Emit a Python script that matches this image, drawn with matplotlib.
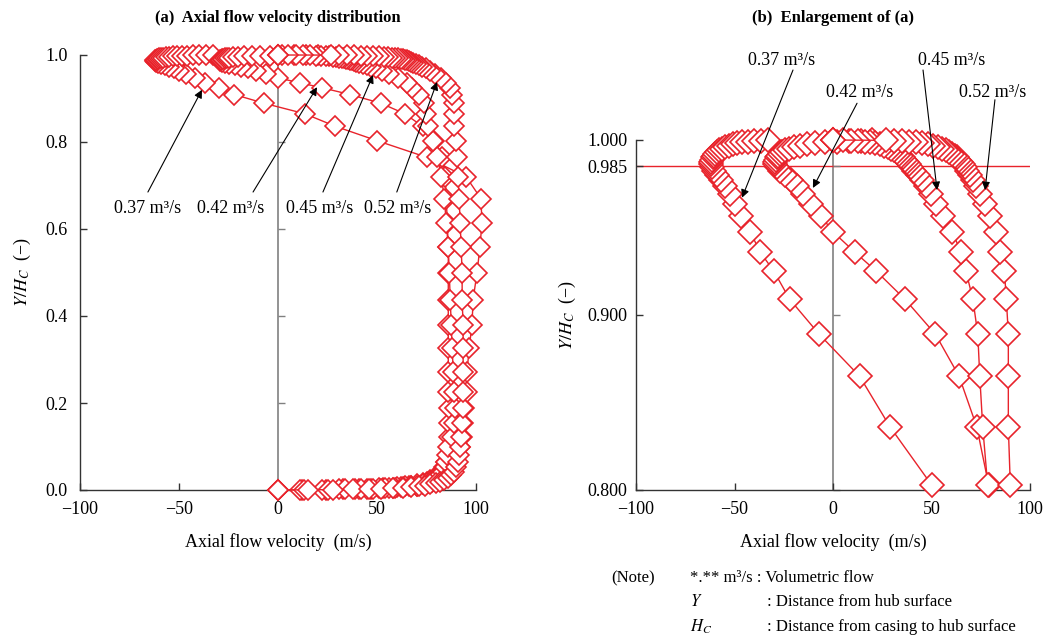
import numpy as np
import matplotlib.pyplot as plt

plt.rcParams['font.family'] = ['Liberation Serif', 'DejaVu Serif']
plt.rcParams['mathtext.fontset'] = 'stix'
plt.rcParams['font.size'] = 13

# Y/Hc polozaji (zajednicka mreza za sve protoke)
y_pos = [0.0, 0.0004, 0.0009, 0.0015, 0.0022, 0.003, 0.004, 0.0052, 0.0066, 0.0083,
         0.0103, 0.0127, 0.0156, 0.019, 0.023, 0.028, 0.034, 0.042, 0.052, 0.065,
         0.08, 0.1,
         0.122, 0.154, 0.189, 0.225, 0.271, 0.326, 0.379, 0.437, 0.499, 0.559,
         0.614, 0.67, 0.72, 0.765, 0.803, 0.836, 0.865, 0.889, 0.909, 0.925,
         0.936, 0.9475, 0.9565, 0.9635, 0.969, 0.9735, 0.977, 0.98, 0.9825, 0.9845,
         0.986, 0.9875, 0.9888, 0.99, 0.991, 0.992, 0.993, 0.994, 0.995, 0.996,
         0.9968, 0.9975, 0.9981, 0.9986, 0.999, 0.9993, 0.9996, 0.9998, 1.0]

# aksijalna brzina (m/s)
v_037 = [0, 12, 24, 33, 41, 47, 53, 58, 62, 66, 70, 73, 76, 78, 80, 82, 84, 86, 88, 89.5, 91, 92,
         93, 93.5, 94, 95.5, 95.5, 96.5, 98, 98.5, 100.5, 102, 103, 102.5, 95, 75, 50, 29, 13.5, -7, -22, -30,
         -37, -42, -46.5, -50, -52.5, -55, -57, -59, -60.5, -61.5, -62, -62, -61.5, -61, -60.5, -60,
         -59, -58, -56.5, -55, -53, -51, -48.5, -46, -43, -40, -36.5, -33, 0]
v_042 = [0, 11, 22, 31, 39, 45, 51, 56, 60, 64, 67, 70, 73, 75, 77, 79, 81, 83, 84, 85, 86, 86.5,
         86.5, 86.5, 86.5, 86, 86, 86, 86, 86, 86, 86, 85.5, 85, 84.5, 83, 79, 73, 64, 52, 36.5, 22,
         11, 0, -6, -11, -15, -18.5, -21.5, -24.5, -27, -28.5, -29.5, -29.5, -29, -28.5, -28, -27,
         -26, -24.5, -22.5, -20, -17, -13, -9, -4, 2, 8, 14, 20, 0]
v_045 = [0, 13, 25, 34, 42, 48, 54, 59, 63, 67, 70, 73, 75, 77, 79, 80.5, 82, 83.5, 84.5, 85, 85.5, 86,
         88, 89, 89.5, 89, 88.5, 88, 87.5, 87, 86.5, 86, 85, 84, 82.5, 80.5, 78.5, 76, 74.5, 73.5, 71, 67.5,
         65, 60.5, 56, 52.5, 49.5, 47, 45, 43, 41, 39.5, 38.5, 37.5, 36.5, 35.5, 34.5, 33.5,
         32.5, 31, 29.5, 28, 26, 24, 21.5, 19, 16, 12.5, 9, 5, 0]
v_052 = [0, 15, 28, 38, 46, 52, 58, 63, 67, 71, 74, 77, 80, 82, 84, 86, 87.5, 89, 90, 91, 91.5, 92,
         92.5, 93, 93.5, 93.5, 93.5, 93.5, 93.5, 93, 93, 92.5, 92, 91.5, 91, 90.5, 90, 89, 89, 89, 88, 87,
         85, 82.5, 79.5, 77, 74.5, 72.5, 71, 69.5, 68, 67, 66, 65, 64, 63, 62, 60.5,
         59, 57.5, 55.5, 53.5, 51, 48, 45, 42, 38.5, 35, 31, 27, 0]

protoci = ['0.37', '0.42', '0.45', '0.52']
brzine = [v_037, v_042, v_045, v_052]

# polozaji natpisa i strelica (a)
lab_a = [(-66, 0.646), (-24, 0.646), (21, 0.646), (60.5, 0.646)]
str_a = [((-65.7, 0.685), (-38.4, 0.92)), ((-12.6, 0.685), (19.7, 0.926)),
         ((22.7, 0.685), (48, 0.954)), ((60, 0.685), (80.3, 0.938))]
# polozaji natpisa i strelica (b)
lab_b = [(-25.9, 1.0457), (13.7, 1.0274), (60.4, 1.0457), (81.2, 1.0274)]
str_b = [((-20.3, 1.04), (-46.2, 0.967)), ((12.2, 1.021), (-10.2, 0.9726)),
         ((45.7, 1.04), (52.8, 0.9714)), ((82.2, 1.023), (77.2, 0.9714))]

crvena = '#e8232b'
W, H = 1045, 639

fig = plt.figure(figsize=(W / 100, H / 100), dpi=100)
ax1 = fig.add_axes([80 / W, 149 / H, 396 / W, 435 / H])
ax2 = fig.add_axes([636 / W, 149 / H, 394 / W, 350 / H])


def uredi_os(ax, y_lo, y_hi, yticks, ylabels, ypad, ylpad):
    ax.set_xlim(-100, 100)
    ax.set_ylim(y_lo, y_hi)
    ax.spines['top'].set_visible(False)
    ax.spines['right'].set_visible(False)
    for s in ['left', 'bottom']:
        ax.spines[s].set_linewidth(1.0)
        ax.spines[s].set_color('#333333')
    ax.axvline(0, color='gray', lw=1.2, zorder=1)
    ax.plot([0] * len(yticks), yticks, linestyle='none', marker=1,
            markersize=5, color='gray', clip_on=False)
    ax.set_xticks([-100, -50, 0, 50, 100])
    ax.set_yticks(yticks)
    ax.set_yticklabels(ylabels)
    ax.tick_params(direction='in', length=5, width=1, color='#333333')
    ax.tick_params(axis='x', pad=8)
    ax.tick_params(axis='y', pad=ypad)
    ax.set_xlabel('Axial flow velocity  (m/s)', labelpad=11)
    ax.set_ylabel(r'$Y/H_C$  (−)', labelpad=ylpad)


uredi_os(ax1, 0, 1.0, [0, 0.2, 0.4, 0.6, 0.8, 1.0],
         ['0.0', '0.2', '0.4', '0.6', '0.8', '1.0'], 9, 9)
uredi_os(ax2, 0.8, 1.0, [0.8, 0.9, 0.985, 1.0],
         ['0.800', '0.900', '0.985', '1.000'], 6, 7)

ax2.axhline(0.985, color=crvena, lw=1.0, zorder=1)

y_arr = np.array(y_pos)
for v in brzine:
    v = np.array(v)
    ax1.plot(v, y_arr, '-', color=crvena, lw=1.0, marker='D', ms=10.5,
             mfc='white', mec=crvena, mew=1.2, clip_on=False, zorder=3)
    m = y_arr >= 0.8
    ax2.plot(v[m], y_arr[m], '-', color=crvena, lw=1.0, marker='D', ms=12,
             mfc='white', mec=crvena, mew=1.2, clip_on=False, zorder=3)

for p, (tx, ty), (a0, a1) in zip(protoci, lab_a, str_a):
    ax1.text(tx, ty, p + ' m³/s', ha='center', va='center')
    ax1.annotate('', xy=a1, xytext=a0,
                 arrowprops=dict(arrowstyle='-|>', color='black', lw=0.8,
                                 mutation_scale=12, shrinkA=0, shrinkB=0),
                 zorder=5, annotation_clip=False)

for p, (tx, ty), (a0, a1) in zip(protoci, lab_b, str_b):
    ax2.text(tx, ty, p + ' m³/s', ha='center', va='center', clip_on=False)
    ax2.annotate('', xy=a1, xytext=a0,
                 arrowprops=dict(arrowstyle='-|>', color='black', lw=0.8,
                                 mutation_scale=12, shrinkA=0, shrinkB=0),
                 zorder=5, annotation_clip=False)

fig.text(278 / W, 1 - 18 / H, '(a)  Axial flow velocity distribution',
         ha='center', va='center', fontsize=12, fontweight='bold')
fig.text(833 / W, 1 - 18 / H, '(b)  Enlargement of (a)',
         ha='center', va='center', fontsize=12, fontweight='bold')

fig.text(611 / W, 1 - 578 / H, '(Note)', va='center', fontsize=12)
fig.text(690 / W, 1 - 578 / H, '*.** m³/s : Volumetric flow', va='center', fontsize=12)
fig.text(690 / W, 1 - 602 / H, r'$Y$', va='center', fontsize=12)
fig.text(767 / W, 1 - 602 / H, ': Distance from hub surface', va='center', fontsize=12)
fig.text(690 / W, 1 - 627 / H, r'$H_C$', va='center', fontsize=12)
fig.text(767 / W, 1 - 627 / H, ': Distance from casing to hub surface', va='center', fontsize=12)

fig.savefig('out.png', dpi=100)
